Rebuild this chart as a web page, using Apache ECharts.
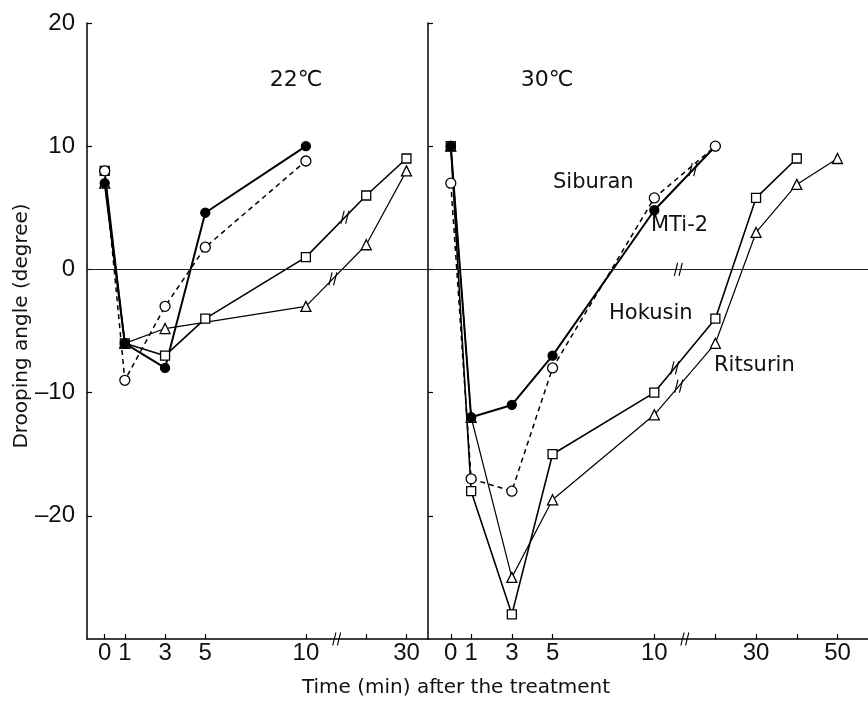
<!DOCTYPE html>
<html>
<head>
<meta charset="utf-8">
<script src="https://cdn.jsdelivr.net/npm/echarts@6/dist/echarts.min.js"></script>
<style>html,body{margin:0;padding:0;background:#fff;}#c{width:868px;height:701px;}</style>
</head>
<body>
<div id="c"></div>
<script>
// ---- data (time in min, drooping angle in degrees) ----
const t22 = [0, 1, 3, 5, 10, 20, 30];
const siburan22 = [8, -9, -3, 1.8, 8.8, null, null];
const mti22 = [7, -6, -8, 4.6, 10, null, null];
const hokusin22 = [8, -6, -7, -4, 1, 6, 9];
const ritsurin22 = [7, -6, -4.8, null, -3, 2, 8];

const t30 = [0, 1, 3, 5, 10, 20, 30, 40, 50];
const siburan30 = [7, -17, -18, -8, 5.8, 10, null, null, null];
const mti30 = [10, -12, -11, -7, 4.8, 10, null, null, null];
const hokusin30 = [10, -18, -28, -15, -10, -4, 5.8, 9, null];
const ritsurin30 = [10, -12, -25, -18.7, -11.8, -6, 3, 6.9, 9];

const tickTimes22 = [0, 1, 3, 5, 10, 20, 30];
const labelTimes22 = [0, 1, 3, 5, 10, 30];
const tickTimes30 = [0, 1, 3, 5, 10, 20, 30, 40, 50];
const labelTimes30 = [0, 1, 3, 5, 10, 30, 50];
const yTicks = [-20, -10, 0, 10, 20];

// broken time axis: linear up to 10 min, then a break, then 5x compressed
function axisPos(t) { return t <= 10 ? t : 13 + (t - 20) / 5; }
function posToTime(p) { return p <= 10.5 ? p : Math.round(20 + (p - 13) * 5); }

function pairs(ts, vs) {
  const out = [];
  ts.forEach((t, i) => { if (vs[i] !== null && vs[i] !== undefined) out.push([axisPos(t), vs[i]]); });
  return out;
}
function interpY(pts, p) {
  for (let i = 0; i < pts.length - 1; i++) {
    if (pts[i][0] <= p && pts[i + 1][0] >= p) {
      const f = (p - pts[i][0]) / (pts[i + 1][0] - pts[i][0]);
      return pts[i][1] + f * (pts[i + 1][1] - pts[i][1]);
    }
  }
  return null;
}

const breakPath = 'path://M0,12 L3.5,0 M5,12 L8.5,0';
const breakStyle = { color: 'rgba(0,0,0,0)', borderColor: '#000', borderWidth: 1.4 };
function breakMark(pts, p) {
  if (p == null) return undefined;
  const y = interpY(pts, p);
  if (y == null) return undefined;
  return {
    silent: true, symbol: breakPath, symbolSize: [8, 13],
    itemStyle: breakStyle, label: { show: false },
    data: [{ coord: [p, y] }]
  };
}

const styles = {
  mti: { symbol: 'circle', symbolSize: 9, fill: '#000', lw: 2, type: 'solid' },
  siburan: { symbol: 'circle', symbolSize: 10, fill: '#fff', lw: 1.5, type: [5, 4] },
  hokusin: { symbol: 'rect', symbolSize: 9, fill: '#fff', lw: 1.6, type: 'solid' },
  ritsurin: { symbol: 'triangle', symbolSize: 10, fill: '#fff', lw: 1.2, type: 'solid' }
};

function mkSeries(name, key, pts, gi, breakAt) {
  const s = styles[key];
  return {
    name: name, type: 'line', xAxisIndex: gi, yAxisIndex: gi,
    data: pts, symbol: s.symbol, symbolSize: s.symbolSize, showAllSymbol: true,
    lineStyle: { color: '#000', width: s.lw, type: s.type },
    itemStyle: { color: s.fill, borderColor: '#000', borderWidth: 1.3 },
    emphasis: { disabled: true }, animation: false,
    markPoint: breakMark(pts, breakAt)
  };
}

const p = {
  s22: pairs(t22, siburan22), m22: pairs(t22, mti22), h22: pairs(t22, hokusin22), r22: pairs(t22, ritsurin22),
  s30: pairs(t30, siburan30), m30: pairs(t30, mti30), h30: pairs(t30, hokusin30), r30: pairs(t30, ritsurin30)
};

const numFont = 'Liberation Sans';
function xAxisDef(gi, min, max, ticks, labels) {
  return {
    type: 'value', gridIndex: gi, min: min, max: max,
    axisLine: { onZero: false, lineStyle: { color: '#000', width: 1.5 } },
    axisTick: { inside: true, length: 5, customValues: ticks.map(axisPos), lineStyle: { color: '#000', width: 1.2 } },
    axisLabel: { customValues: labels.map(axisPos), formatter: v => String(posToTime(v)),
      color: '#111', fontSize: 24, fontFamily: numFont, margin: 2 },
    splitLine: { show: false }
  };
}
function yAxisDef(gi, showLabels) {
  return {
    type: 'value', gridIndex: gi, min: -30, max: 20,
    axisLine: { show: true, onZero: false, lineStyle: { color: '#000', width: 1.5 } },
    axisTick: { inside: true, length: 5, customValues: yTicks, lineStyle: { color: '#000', width: 1.2 } },
    axisLabel: { show: showLabels, customValues: yTicks, color: '#111', fontSize: 24, fontFamily: numFont, margin: 12,
      formatter: v => String(v).replace('-', '–') },
    splitLine: { show: false }
  };
}

const zeroLine = {
  silent: true, symbol: 'none', label: { show: false },
  lineStyle: { color: '#222', width: 1, type: 'solid' },
  data: [{ yAxis: 0 }]
};

const series = [
  mkSeries('Ritsurin', 'ritsurin', p.r22, 0, 11.34),
  mkSeries('Hokusin', 'hokusin', p.h22, 0, 11.94),
  mkSeries('Siburan', 'siburan', p.s22, 0, null),
  mkSeries('MTi-2', 'mti', p.m22, 0, null),
  mkSeries('Ritsurin', 'ritsurin', p.r30, 1, 11.2),
  mkSeries('Hokusin', 'hokusin', p.h30, 1, 11.0),
  mkSeries('MTi-2', 'mti', p.m30, 1, 11.9),
  mkSeries('Siburan', 'siburan', p.s30, 1, null)
];
series[0].markLine = zeroLine;
series[4].markLine = zeroLine;

// axis break marks and the break on the 30 °C zero line
series.push({
  type: 'scatter', xAxisIndex: 0, yAxisIndex: 0, data: [], silent: true,
  markPoint: { silent: true, symbol: breakPath, symbolSize: [8, 13], itemStyle: breakStyle, label: { show: false },
    data: [{ coord: [11.53, -30] }] }
});
series.push({
  type: 'scatter', xAxisIndex: 1, yAxisIndex: 1, data: [], silent: true,
  markPoint: { silent: true, symbol: breakPath, symbolSize: [8, 13], itemStyle: breakStyle, label: { show: false },
    data: [{ coord: [11.5, -30] }, { coord: [11.18, 0] }] }
});

const txtFont = 'DejaVu Sans';
const option = {
  animation: false,
  backgroundColor: '#fff',
  grid: [
    { left: 87, top: 23, width: 341, bottom: 62 },
    { left: 428, top: 23, right: 0, bottom: 62 }
  ],
  xAxis: [
    xAxisDef(0, -0.88, 16.07, tickTimes22, labelTimes22),
    xAxisDef(1, -1.12, 20.5, tickTimes30, labelTimes30)
  ],
  yAxis: [yAxisDef(0, true), yAxisDef(1, false)],
  series: series,
  graphic: [
    { type: 'text', x: 22, y: 326, rotation: Math.PI / 2,
      style: { text: 'Drooping angle (degree)', fontSize: 20, fontFamily: txtFont, fill: '#111', align: 'center', verticalAlign: 'middle' } },
    { type: 'text', x: 456, y: 688,
      style: { text: 'Time (min) after the treatment', fontSize: 20, fontFamily: txtFont, fill: '#111', align: 'center', verticalAlign: 'middle' } },
    { type: 'text', x: 296, y: 80,
      style: { text: '22℃', fontSize: 22, fontFamily: txtFont, fill: '#111', align: 'center', verticalAlign: 'middle' } },
    { type: 'text', x: 547, y: 80,
      style: { text: '30℃', fontSize: 22, fontFamily: txtFont, fill: '#111', align: 'center', verticalAlign: 'middle' } },
    { type: 'text', x: 553, y: 183,
      style: { text: 'Siburan', fontSize: 21, fontFamily: txtFont, fill: '#111', align: 'left', verticalAlign: 'middle' } },
    { type: 'text', x: 651, y: 226,
      style: { text: 'MTi-2', fontSize: 21, fontFamily: txtFont, fill: '#111', align: 'left', verticalAlign: 'middle' } },
    { type: 'text', x: 609, y: 314,
      style: { text: 'Hokusin', fontSize: 21, fontFamily: txtFont, fill: '#111', align: 'left', verticalAlign: 'middle' } },
    { type: 'text', x: 714, y: 366,
      style: { text: 'Ritsurin', fontSize: 21, fontFamily: txtFont, fill: '#111', align: 'left', verticalAlign: 'middle' } }
  ]
};

const chart = echarts.init(document.getElementById('c'), null, { renderer: 'canvas' });
chart.setOption(option);
</script>
</body>
</html>
